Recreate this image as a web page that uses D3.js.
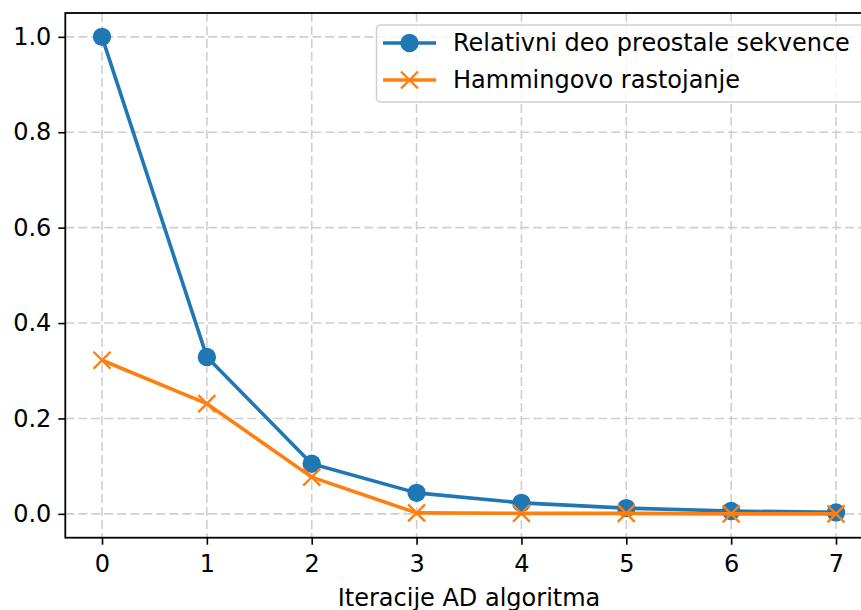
<!DOCTYPE html>
<html><head><meta charset="utf-8">
<script src="https://cdn.jsdelivr.net/npm/d3@7"></script>
<style>
html,body{margin:0;padding:0;background:#fff;}
svg{display:block;font-family:"DejaVu Sans",sans-serif;}
</style></head>
<body><svg id="chart" width="861" height="610"></svg>
<script>
const iterations = [0,1,2,3,4,5,6,7];
const relativniDeo = [1.0, 0.329, 0.105, 0.044, 0.023, 0.012, 0.006, 0.003];
const hamming = [0.322, 0.231, 0.077, 0.002, 0.001, 0.001, 0.0, 0.0];
const yTicks = [0.0, 0.2, 0.4, 0.6, 0.8, 1.0];
const xTicks = [0,1,2,3,4,5,6,7];
const seriesNames = ["Relativni deo preostale sekvence", "Hammingovo rastojanje"];
const colors = ["#1f77b4", "#ff7f0e"];
const xLabel = "Iteracije AD algoritma";

const svg = d3.select("#chart");
const L = 65.3, R = 872.7, T = 13, B = 537.7;
const x = d3.scaleLinear().domain([-0.35, 7.35]).range([L, R]);
const y = d3.scaleLinear().domain([-0.05, 1.05]).range([B, T]);
const FS = 24;

// grid
const grid = svg.append("g");
grid.selectAll("line.gx").data(xTicks).join("line")
  .attr("x1", d => x(d)).attr("x2", d => x(d)).attr("y1", T).attr("y2", B)
  .attr("stroke", "#cfcfcf").attr("stroke-width", 1.6).attr("stroke-dasharray", "9,4");
grid.selectAll("line.gy").data(yTicks).join("line")
  .attr("y1", d => y(d)).attr("y2", d => y(d)).attr("x1", L).attr("x2", R)
  .attr("stroke", "#cfcfcf").attr("stroke-width", 1.6).attr("stroke-dasharray", "9,4");

// axes
const xAxis = d3.axisBottom(x).tickValues(xTicks).tickFormat(d3.format("d")).tickSize(7).tickPadding(6);
const yAxis = d3.axisLeft(y).tickValues(yTicks).tickFormat(d3.format(".1f")).tickSize(7).tickPadding(7);
const gx = svg.append("g").attr("transform", `translate(0,${B})`).call(xAxis);
const gy = svg.append("g").attr("transform", `translate(${L},0)`).call(yAxis);
[gx, gy].forEach(g => {
  g.select(".domain").remove();
  g.selectAll(".tick line").attr("stroke", "#000").attr("stroke-width", 1.6);
  g.selectAll(".tick text").attr("font-size", FS).attr("fill", "#000").attr("font-family", "DejaVu Sans");
});
gx.selectAll(".tick text").attr("dy", "0.9em");

// spines
svg.append("rect").attr("x", L).attr("y", T).attr("width", R - L).attr("height", B - T)
  .attr("fill", "none").attr("stroke", "#000").attr("stroke-width", 1.8);

// series
const data = [relativniDeo, hamming];
const line = d3.line().x((d, i) => x(iterations[i])).y(d => y(d));
data.forEach((vals, si) => {
  const g = svg.append("g");
  g.append("path").datum(vals).attr("d", line).attr("fill", "none")
    .attr("stroke", colors[si]).attr("stroke-width", 3.6).attr("stroke-linejoin", "round");
  if (si === 0) {
    g.selectAll("circle").data(vals).join("circle")
      .attr("cx", (d, i) => x(iterations[i])).attr("cy", d => y(d)).attr("r", 9.2)
      .attr("fill", colors[si]);
  } else {
    const s = 8.5;
    g.selectAll("path.m").data(vals).join("path").attr("class", "m")
      .attr("d", (d, i) => { const cx = x(iterations[i]), cy = y(d);
        return `M${cx-s},${cy-s}L${cx+s},${cy+s}M${cx-s},${cy+s}L${cx+s},${cy-s}`; })
      .attr("stroke", colors[si]).attr("stroke-width", 2.4).attr("fill", "none");
  }
});

// x label
svg.append("text").attr("x", (L + R) / 2).attr("y", 606).attr("text-anchor", "middle")
  .attr("font-size", FS).attr("fill", "#000").text(xLabel);

// legend
const lg = svg.append("g");
lg.append("rect").attr("x", 376.5).attr("y", 25).attr("width", 490).attr("height", 77).attr("rx", 4)
  .attr("fill", "#fff").attr("fill-opacity", 0.8).attr("stroke", "#d0d0d0").attr("stroke-width", 1.5);
const rows = [43, 80];
rows.forEach((ry, i) => {
  lg.append("line").attr("x1", 383).attr("x2", 436).attr("y1", ry).attr("y2", ry)
    .attr("stroke", colors[i]).attr("stroke-width", 3.6);
  if (i === 0) {
    lg.append("circle").attr("cx", 409.5).attr("cy", ry).attr("r", 9.2).attr("fill", colors[i]);
  } else {
    const s = 8.5, cx = 409.5;
    lg.append("path").attr("d", `M${cx-s},${ry-s}L${cx+s},${ry+s}M${cx-s},${ry+s}L${cx+s},${ry-s}`)
      .attr("stroke", colors[i]).attr("stroke-width", 2.4);
  }
  lg.append("text").attr("x", 453).attr("y", ry).attr("dy", "0.35em")
    .attr("font-size", FS).attr("fill", "#000").text(seriesNames[i]);
});
</script></body></html>
